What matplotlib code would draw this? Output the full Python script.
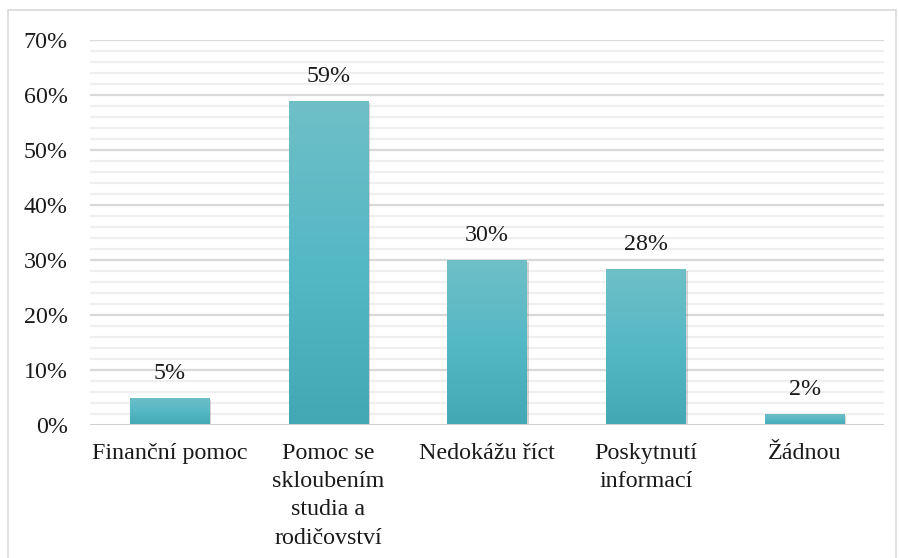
import numpy as np
import matplotlib.pyplot as plt
from matplotlib.patches import Rectangle
from matplotlib.colors import LinearSegmentedColormap
import matplotlib.patheffects as pe

# data
categories = ['Finanční pomoc', 'Pomoc se\nskloubením\nstudia a\nrodičovství',
              'Nedokážu říct', 'Poskytnutí\ninformací', 'Žádnou']
values = [5, 59, 30, 28.4, 2]
yticks = [0, 10, 20, 30, 40, 50, 60, 70]

plt.rcParams['font.family'] = ['Liberation Serif', 'DejaVu Serif']
FS = 17.3

fig = plt.figure(figsize=(8.99, 5.58), dpi=100)
# light frame around the chart
fig.patches.append(Rectangle((8 / 899, -0.05), 888 / 899, 1 - 10 / 558 + 0.05,
                             transform=fig.transFigure, fill=False,
                             edgecolor='#d9d9d9', linewidth=1.2))

ax = fig.add_axes([90 / 899, 1 - 425 / 558, 794 / 899, 385 / 558])
x = np.arange(len(categories))

# grid
for v in np.arange(2, 70, 2):
    if v % 10 != 0:
        ax.axhline(v, color='#efefef', linewidth=1.6, zorder=0)
for v in yticks[1:]:
    ax.axhline(v, color='#d9d9d9', linewidth=1.6, zorder=0)

cmap = LinearSegmentedColormap.from_list('bar', ['#43a7b4', '#55b8c5', '#6fbfc7'])
grad = np.linspace(0, 1, 256).reshape(-1, 1)

bars = ax.bar(x, values, width=0.5, color='#55b8c5', zorder=2,
              path_effects=[pe.SimplePatchShadow(offset=(1.5, -1.5), shadow_rgbFace='#888888', alpha=0.35),
                            pe.Normal()])
for b, v in zip(bars, values):
    im = ax.imshow(grad, cmap=cmap, origin='lower', aspect='auto',
                   extent=[b.get_x(), b.get_x() + b.get_width(), 0, v], zorder=3)
    im.set_clip_path(b)
    ax.annotate(f'{v:.0f}%', (b.get_x() + b.get_width() / 2, v), xytext=(0, 10),
                textcoords='offset points', ha='center', va='bottom', fontsize=FS, color='#1a1a1a')

ax.set_xlim(-0.5, len(categories) - 0.5)
ax.set_ylim(0, 70)
ax.axhline(0, color='#d0d0d0', linewidth=2.2, zorder=4)

ax.set_xticks(x)
ax.set_xticklabels(categories, fontsize=FS, color='#1a1a1a', va='top', linespacing=1.45)
ax.set_yticks(yticks)
ax.set_yticklabels([f'{t}%' for t in yticks], fontsize=FS, color='#1a1a1a')
ax.tick_params(axis='both', length=0)
ax.tick_params(axis='y', pad=16)
ax.tick_params(axis='x', pad=13)
for s in ax.spines.values():
    s.set_visible(False)

fig.savefig('out.png', dpi=100)
